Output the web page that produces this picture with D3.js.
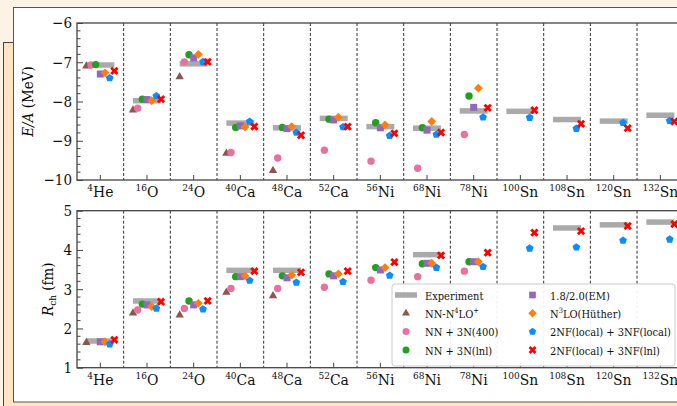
<!DOCTYPE html>
<html>
<head>
<meta charset="utf-8">
<script src="https://cdn.jsdelivr.net/npm/d3@7"></script>
<style>
  html, body { margin: 0; padding: 0; background: #fcf2e6; }
  svg { display: block; }
</style>
</head>
<body>
<svg id="chart" width="677" height="406"></svg>
<script>
// nuclei: mass number + element
const massNumbers = ['4', '16', '24', '40', '48', '52', '56', '68', '78', '100', '108', '120', '132'];
const elements = ['He', 'O', 'O', 'Ca', 'Ca', 'Ca', 'Ni', 'Ni', 'Ni', 'Sn', 'Sn', 'Sn', 'Sn'];

// binding energy per nucleon (MeV)
const expE    = [-7.07, -7.98, -7.04, -8.55, -8.67, -8.43, -8.64, -8.68, -8.24, -8.25, -8.46, -8.50, -8.35];
const n4loE   = [-7.10, -8.22, -7.37, -9.32, -9.76, null, null, null, null, null, null, null, null];
const nn400E  = [-7.07, -8.17, -6.99, -9.30, -9.44, -9.24, -9.52, -9.70, -8.84, null, null, null, null];
const nnLnlE  = [-7.06, -7.94, -6.81, -8.66, -8.66, -8.45, -8.54, -8.67, -7.86, null, null, null, null];
const emE     = [-7.30, -7.95, -6.89, -8.62, -8.69, -8.47, -8.67, -8.73, -8.15, null, null, null, null];
const hutherE = [-7.27, -7.98, -6.80, -8.65, -8.64, -8.40, -8.60, -8.51, -7.66, null, null, null, null];
const localE  = [-7.40, -7.86, -6.99, -8.51, -8.79, -8.65, -8.87, -8.84, -8.40, -8.41, -8.69, -8.54, -8.49];
const lnlE    = [-7.22, -7.94, -6.99, -8.64, -8.86, -8.64, -8.81, -8.79, -8.16, -8.22, -8.57, -8.68, -8.51];

// charge radii (fm)
const expR    = [1.68, 2.70, null, 3.48, 3.48, null, null, 3.88, null, null, 4.56, 4.64, 4.71];
const n4loR   = [1.64, 2.39, 2.34, 2.92, 2.83, null, null, null, null, null, null, null, null];
const nn400R  = [null, 2.47, 2.51, 3.02, 3.02, 3.05, 3.23, 3.32, 3.46, null, null, null, null];
const nnLnlR  = [null, 2.62, 2.70, 3.32, 3.34, 3.39, 3.55, 3.65, 3.70, null, null, null, null];
const emR     = [1.66, 2.60, 2.60, 3.32, 3.29, 3.34, 3.49, 3.66, 3.70, null, null, null, null];
const hutherR = [1.66, 2.56, 2.64, 3.34, 3.36, 3.39, 3.55, 3.66, 3.70, null, null, null, null];
const localR  = [1.60, 2.51, 2.49, 3.22, 3.17, 3.19, 3.35, 3.55, 3.57, 4.04, 4.07, 4.24, 4.27];
const lnlR    = [1.71, 2.68, 2.70, 3.46, 3.43, 3.46, 3.69, 3.86, 3.93, 4.44, 4.48, 4.61, 4.66];

const FONT = '"DejaVu Serif Condensed", "DejaVu Serif", serif';
const svg = d3.select('#chart').style('font-family', FONT).style('font-stretch', 'condensed');

// frame around the figure
svg.append('rect').attr('x', 3.5).attr('y', 42.5).attr('width', 700).attr('height', 400)
    .attr('fill', '#fde4c6').attr('stroke', '#444');
svg.append('rect').attr('x', 13.5).attr('y', 7.5).attr('width', 700).attr('height', 394.5)
    .attr('fill', '#fff').attr('stroke', '#555');

const X0 = 77, BW = 46.67;
const x = d3.scaleBand().domain(d3.range(massNumbers.length)).range([X0, X0 + BW * massNumbers.length]).padding(0);
const cx = i => x(i) + x.bandwidth() / 2;
const off = k => k * x.bandwidth() * 0.1;

const axisColor = '#444';

// marker paths
function pentagon(r) {
    const pts = d3.range(5).map(k => {
        const a = -Math.PI / 2 + k * 2 * Math.PI / 5;
        return [r * Math.cos(a), r * Math.sin(a)];
    });
    return 'M' + pts.map(p => p.join(',')).join('L') + 'Z';
}
function xPath(r) {
    const w = r * 0.32;
    // 12-point cross, turned 45deg
    const base = [[-w, -r], [w, -r], [w, -w], [r, -w], [r, w], [w, w], [w, r], [-w, r], [-w, w], [-r, w], [-r, -w], [-w, -w]];
    const c = Math.SQRT1_2;
    const rot = base.map(([px, py]) => [px * c - py * c, px * c + py * c]);
    return 'M' + rot.map(p => p.join(',')).join('L') + 'Z';
}
const shapes = {
    triangle: r => d3.symbol(d3.symbolTriangle, r * r * 2.2)(),
    circle: r => d3.symbol(d3.symbolCircle, Math.PI * r * r)(),
    square: r => d3.symbol(d3.symbolSquare, r * r * 3.6)(),
    diamond: r => `M0,${-r * 1.2}L${r * 1.2},0L0,${r * 1.2}L${-r * 1.2},0Z`,
    pentagon: r => pentagon(r * 1.1),
    x: r => xPath(r * 1.2)
};

const series = [
    { shape: 'triangle', color: '#8c564b', k: -3, E: n4loE, R: n4loR },
    { shape: 'circle', color: '#e8719f', k: -2, E: nn400E, R: nn400R },
    { shape: 'circle', color: '#1fa01f', k: -1, E: nnLnlE, R: nnLnlR },
    { shape: 'square', color: '#9467bd', k: 0, E: emE, R: emR },
    { shape: 'diamond', color: '#ff7f0e', k: 1, E: hutherE, R: hutherR },
    { shape: 'pentagon', color: '#0c8cff', k: 2, E: localE, R: localR },
    { shape: 'x', color: '#ff0000', k: 3, E: lnlE, R: lnlR }
];

const panels = [
    { top: 23, bottom: 180, domain: [-10, -6], exp: expE, key: 'E', labelX: 28 },
    { top: 210.7, bottom: 367.7, domain: [1, 5], exp: expR, key: 'R', labelX: 48 }
];

const R0 = 3.7;

panels.forEach(p => {
    const y = d3.scaleLinear().domain(p.domain).range([p.bottom, p.top]);
    const g = svg.append('g');
    const right = X0 + BW * massNumbers.length;

    // dashed separators
    for (let i = 1; i < massNumbers.length; i++) {
        g.append('line')
            .attr('x1', x(i)).attr('x2', x(i))
            .attr('y1', p.top).attr('y2', p.bottom)
            .attr('stroke', '#333').attr('stroke-width', 1)
            .attr('stroke-dasharray', '3,2');
    }

    // experiment bars
    p.exp.forEach((v, i) => {
        if (v === null) return;
        g.append('line')
            .attr('x1', cx(i) - x.bandwidth() * 0.3).attr('x2', cx(i) + x.bandwidth() * 0.3)
            .attr('y1', y(v)).attr('y2', y(v))
            .attr('stroke', '#aaa').attr('stroke-width', 5.5);
    });

    // markers
    series.forEach(s => {
        s[p.key].forEach((v, i) => {
            if (v === null) return;
            g.append('path')
                .attr('d', shapes[s.shape](R0))
                .attr('transform', `translate(${cx(i) + off(s.k)},${y(v)})`)
                .attr('fill', s.color);
        });
    });

    // y axis, inward ticks
    const yMajor = d3.axisLeft(y).ticks(4).tickSize(-6).tickPadding(5)
        .tickFormat(d3.format('d'));
    const ya = g.append('g').attr('transform', `translate(${X0},0)`).call(yMajor);
    ya.attr('font-family', FONT);
    ya.select('.domain').remove();
    ya.selectAll('line').attr('stroke', axisColor);
    ya.selectAll('text').style('font-family', FONT).style('font-size', '15px')
        .attr('fill', '#111').attr('x', -5);
    const minorTicks = d3.range(p.domain[0], p.domain[1] + 0.001, 0.2)
        .filter(v => Math.abs(v - Math.round(v)) > 0.01);
    minorTicks.forEach(v => {
        g.append('line').attr('x1', X0).attr('x2', X0 + 3.5)
            .attr('y1', y(v)).attr('y2', y(v)).attr('stroke', axisColor);
    });

    // x ticks at the centres, inward
    d3.range(massNumbers.length).forEach(i => {
        g.append('line').attr('x1', cx(i)).attr('x2', cx(i))
            .attr('y1', p.bottom).attr('y2', p.bottom - 5).attr('stroke', axisColor);
    });

    // frame
    g.append('rect').attr('x', X0).attr('y', p.top)
        .attr('width', right - X0).attr('height', p.bottom - p.top)
        .attr('fill', 'none').attr('stroke', axisColor).attr('stroke-width', 1.3);

    // category labels
    massNumbers.forEach((m, i) => {
        const t = g.append('text')
            .attr('x', cx(i)).attr('y', p.bottom + 17)
            .attr('text-anchor', 'middle')
            .style('font-family', FONT)
            .style('font-size', '15.5px').attr('fill', '#111');
        t.append('tspan').text(m).style('font-size', '10px').attr('dy', -6);
        t.append('tspan').text(elements[i]).attr('dy', 6);
    });
});

// axis labels
const cyTop = (panels[0].top + panels[0].bottom) / 2;
const cyBot = (panels[1].top + panels[1].bottom) / 2;
const lab1 = svg.append('text')
    .attr('transform', `translate(${panels[0].labelX + 5},${cyTop}) rotate(-90)`)
    .attr('text-anchor', 'middle').style('font-family', FONT).style('font-size', '15px');
lab1.append('tspan').text('E/A').style('font-style', 'italic');
lab1.append('tspan').text(' (MeV)');

const lab2 = svg.append('text')
    .attr('transform', `translate(${panels[1].labelX + 5},${cyBot}) rotate(-90)`)
    .attr('text-anchor', 'middle').style('font-family', FONT).style('font-size', '15px');
lab2.append('tspan').text('R').style('font-style', 'italic');
lab2.append('tspan').text('ch').style('font-size', '10px').attr('dy', 3);
lab2.append('tspan').text(' (fm)').attr('dy', -3);

// legend
const lg = svg.append('g');
lg.append('rect').attr('x', 392).attr('y', 284).attr('width', 283).attr('height', 82)
    .attr('rx', 3).attr('fill', 'rgba(255,255,255,0.92)').attr('stroke', '#ccc');
const rowY = [295, 313.3, 331.6, 350];
const legendItems = [
    { col: 0, row: 0, type: 'bar', parts: [['Experiment']] },
    { col: 0, row: 1, s: 0, parts: [['NN-N'], ['4', 'sup'], ['LO'], ['+', 'sup']] },
    { col: 0, row: 2, s: 1, parts: [['NN + 3N(400)']] },
    { col: 0, row: 3, s: 2, parts: [['NN + 3N(lnl)']] },
    { col: 1, row: 0, s: 3, parts: [['1.8/2.0(EM)']] },
    { col: 1, row: 1, s: 4, parts: [['N'], ['3', 'sup'], ['LO(Hüther)']] },
    { col: 1, row: 2, s: 5, parts: [['2NF(local) + 3NF(local)']] },
    { col: 1, row: 3, s: 6, parts: [['2NF(local) + 3NF(lnl)']] }
];
const colMarkerX = [406, 532.5];
const colTextX = [425, 550];
const legendTexts = [];
legendItems.forEach(it => {
    const yy = rowY[it.row];
    if (it.type === 'bar') {
        lg.append('line').attr('x1', colMarkerX[it.col] - 11).attr('x2', colMarkerX[it.col] + 11)
            .attr('y1', yy).attr('y2', yy).attr('stroke', '#aaa').attr('stroke-width', 5.5);
    } else {
        const s = series[it.s];
        lg.append('path').attr('d', shapes[s.shape](R0 * 0.95))
            .attr('transform', `translate(${colMarkerX[it.col]},${yy})`)
            .attr('fill', s.color);
    }
    const t = lg.append('text').attr('x', colTextX[it.col]).attr('y', yy + 4.5)
        .style('font-family', FONT).style('font-size', '12.5px').attr('fill', '#111');
    let shifted = false;
    it.parts.forEach(([txt, kind]) => {
        const ts = t.append('tspan').text(txt);
        if (kind === 'sup') {
            ts.style('font-size', '8.5px').attr('dy', shifted ? 0 : -5);
            shifted = true;
        } else if (shifted) {
            ts.attr('dy', 5);
            shifted = false;
        }
    });
    legendTexts.push(t);
});
// shrink legend text if the font runs wider than the box allows
const widest = d3.max(legendTexts, t => t.node().getComputedTextLength());
if (widest > 121) {
    const f = 121 / widest;
    legendTexts.forEach(t => {
        t.style('font-size', (12.5 * f) + 'px');
        t.selectAll('tspan').filter(function () { return this.style.fontSize; })
            .style('font-size', (8.5 * f) + 'px');
    });
}
</script>
</body>
</html>
